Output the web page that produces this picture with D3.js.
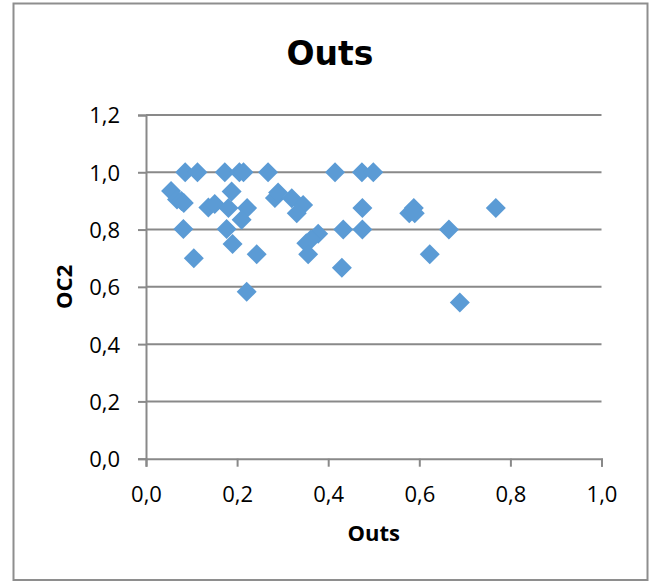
<!DOCTYPE html>
<html>
<head>
<meta charset="utf-8">
<script src="https://d3js.org/d3.v7.min.js"></script>
<style>
  html, body { margin: 0; padding: 0; background: #fff; }
  svg { display: block; }
</style>
</head>
<body>
<svg id="chart" width="653" height="583"></svg>
<script>
// Outs vs OC2 observations
const outsValues = [
  0.086, 0.113, 0.173, 0.205, 0.214, 0.268, 0.415, 0.474, 0.499,
  0.055, 0.068, 0.078, 0.083, 0.137, 0.151, 0.181, 0.188, 0.222,
  0.210, 0.082, 0.177, 0.190, 0.105, 0.243, 0.221, 0.283, 0.290,
  0.320, 0.345, 0.331, 0.475, 0.578, 0.588, 0.590, 0.768, 0.433,
  0.475, 0.665, 0.378, 0.362, 0.352, 0.356, 0.623, 0.430, 0.689
];
const oc2Values = [
  1.000, 1.000, 1.000, 1.000, 1.000, 1.000, 1.000, 1.000, 1.000,
  0.935, 0.905, 0.900, 0.893, 0.877, 0.889, 0.875, 0.933, 0.875,
  0.834, 0.802, 0.802, 0.750, 0.700, 0.714, 0.583, 0.910, 0.929,
  0.909, 0.886, 0.857, 0.875, 0.857, 0.875, 0.857, 0.875, 0.800,
  0.800, 0.800, 0.785, 0.765, 0.752, 0.714, 0.714, 0.667, 0.545
];
const xTicks = [0, 0.2, 0.4, 0.6, 0.8, 1.0];
const yTicks = [0, 0.2, 0.4, 0.6, 0.8, 1.0, 1.2];
const chartTitle = "Outs";
const xTitle = "Outs";
const yTitle = "OC2";

const points = outsValues.map((x, i) => ({ x, y: oc2Values[i] }));

const svg = d3.select("#chart");
const plot = { left: 146, right: 601.5, top: 115, bottom: 458.7 };

const gridColor = "#898989";
const markerColor = "#5b9bd5";
const tickFont = "'Open Sans', 'Liberation Sans', sans-serif";

const fmt = d3.formatLocale({ decimal: ",", thousands: ".", grouping: [3], currency: ["", ""] }).format(".1f");

const x = d3.scaleLinear().domain([0, 1]).range([plot.left, plot.right]);
const y = d3.scaleLinear().domain([0, 1.2]).range([plot.bottom, plot.top]);

// chart frame
svg.append("rect")
  .attr("x", 13.5).attr("y", 3.5)
  .attr("width", 634).attr("height", 576.5)
  .attr("fill", "#fff")
  .attr("stroke", "#8e8e8e")
  .attr("stroke-width", 2);

// horizontal gridlines
svg.append("g")
  .selectAll("line")
  .data(yTicks.filter(d => d > 0))
  .join("line")
  .attr("x1", plot.left).attr("x2", plot.right)
  .attr("y1", d => y(d)).attr("y2", d => y(d))
  .attr("stroke", gridColor)
  .attr("stroke-width", 2);

// y axis
const yAxis = svg.append("g")
  .attr("transform", `translate(${plot.left},0)`)
  .call(d3.axisLeft(y).tickValues(yTicks).tickFormat(fmt).tickSize(8).tickPadding(18));
yAxis.select(".domain").attr("stroke", gridColor).attr("stroke-width", 2);
yAxis.selectAll(".tick line").attr("stroke", gridColor).attr("stroke-width", 2);
yAxis.selectAll(".tick text")
  .attr("font-family", tickFont)
  .attr("font-size", 22)
  .attr("fill", "#000")
  .attr("dy", "0.36em");

// x axis
const xAxis = svg.append("g")
  .attr("transform", `translate(0,${plot.bottom})`)
  .call(d3.axisBottom(x).tickValues(xTicks).tickFormat(fmt).tickSize(8).tickPadding(10));
xAxis.select(".domain").attr("stroke", gridColor).attr("stroke-width", 2);
xAxis.selectAll(".tick line").attr("stroke", gridColor).attr("stroke-width", 2);
xAxis.selectAll(".tick text")
  .attr("font-family", tickFont)
  .attr("font-size", 22)
  .attr("fill", "#000")
  .attr("dy", null)
  .attr("y", 43);

// diamond markers
const diamond = d3.symbol().type(d3.symbolSquare).size(200);
svg.append("g")
  .selectAll("path")
  .data(points)
  .join("path")
  .attr("d", diamond)
  .attr("transform", d => `translate(${x(d.x)},${y(d.y)}) rotate(45)`)
  .attr("fill", markerColor);

// titles
svg.append("text")
  .attr("x", 330).attr("y", 65)
  .attr("text-anchor", "middle")
  .attr("font-family", "'DejaVu Sans', sans-serif")
  .attr("font-weight", "bold")
  .attr("font-size", 33)
  .text(chartTitle);

svg.append("text")
  .attr("x", (plot.left + plot.right) / 2).attr("y", 541)
  .attr("text-anchor", "middle")
  .attr("font-family", tickFont)
  .attr("font-weight", "bold")
  .attr("font-size", 22)
  .text(xTitle);

svg.append("text")
  .attr("transform", `translate(72,${(plot.top + plot.bottom) / 2}) rotate(-90)`)
  .attr("text-anchor", "middle")
  .attr("font-family", tickFont)
  .attr("font-weight", "bold")
  .attr("font-size", 22)
  .text(yTitle);
</script>
</body>
</html>
